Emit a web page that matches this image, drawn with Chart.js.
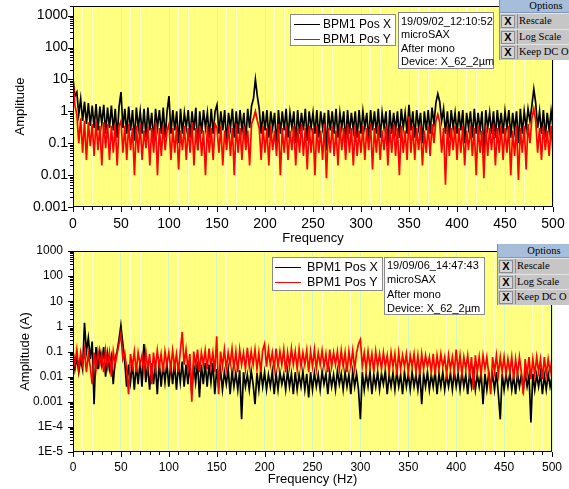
<!DOCTYPE html>
<html>
<head>
<meta charset="utf-8">
<script src="https://cdn.jsdelivr.net/npm/chart.js@4.4.0/dist/chart.umd.min.js"></script>
<style>
body { margin: 0; background: #fff; width: 569px; height: 489px; overflow: hidden; position: relative; font-family: "Liberation Sans", Arial, sans-serif; }
canvas { position: absolute; left: 0; }
#c1 { top: 0; }
#c2 { top: 240px; }
.box { position: absolute; background: #fff; border: 1px solid #8a8a8a; box-sizing: border-box; color: #000; }
.lg span { position: absolute; white-space: nowrap; line-height: 14px; }
.lg i { position: absolute; height: 0; border-top: 1px solid #000; width: 26px; }
.info { font-size: 11px; white-space: nowrap; padding-left: 2px; }
.opt { position: absolute; width: 92px; background: #c6c6c6; border-left: 1px solid #8c8c8c; font-family: "Liberation Serif", "DejaVu Serif", serif; font-size: 10.5px; color: #000; }
.opt .hd { background: #a7bedb; text-align: center; border-bottom: 1px solid #7f97b8; }
.opt .row { position: relative; height: 14.5px; border-top: 1px solid #e4e4e4; }
.opt .cb { position: absolute; left: 1px; top: 1px; width: 12px; height: 11px; border: 1px solid #8c8c8c; background: #d4d4d4; font-family: "Liberation Sans", Arial, sans-serif; font-weight: bold; font-size: 11px; line-height: 11px; text-align: center; }
.opt .tx { position: absolute; left: 17px; top: 0; line-height: 14px; border-left: 1px solid #8c8c8c; padding-left: 1px; }
</style>
</head>
<body>
<canvas id="c1" width="569" height="250"></canvas>
<canvas id="c2" width="569" height="249"></canvas>

<div class="box lg" style="left:290px;top:14px;width:106px;height:32px;font-size:12px">
  <i style="left:3px;top:9px"></i><span style="left:32px;top:2px">BPM1 Pos X</span>
  <i style="left:3px;top:24px;border-color:#ff0000"></i><span style="left:32px;top:17px">BPM1 Pos Y</span>
</div>
<div class="box info" style="left:398px;top:12px;width:96px;height:57px;line-height:13.3px;padding-top:2px">
  19/09/02_12:10:52<br>microSAX<br>After mono<br>Device: X_62_2µm
</div>
<div class="opt" style="left:499px;top:0">
  <div class="hd" style="height:12px;line-height:12px">Options</div>
  <div class="row"><span class="cb">X</span><span class="tx">Rescale</span></div>
  <div class="row"><span class="cb">X</span><span class="tx">Log Scale</span></div>
  <div class="row"><span class="cb">X</span><span class="tx">Keep DC O</span></div>
</div>

<div class="box lg" style="left:272px;top:257px;width:111px;height:34px;font-size:12.5px">
  <i style="left:2px;top:9px"></i><span style="left:34px;top:2px">BPM1 Pos X</span>
  <i style="left:2px;top:24px;border-color:#ff0000"></i><span style="left:34px;top:17px">BPM1 Pos Y</span>
</div>
<div class="box info" style="left:384px;top:257px;width:101px;height:58px;line-height:14.3px;padding-top:0">
  19/09/06_14:47:43<br>microSAX<br>After mono<br>Device: X_62_2µm
</div>
<div class="opt" style="left:497px;top:244px">
  <div class="hd" style="height:13px;line-height:13px">Options</div>
  <div class="row"><span class="cb">X</span><span class="tx">Rescale</span></div>
  <div class="row"><span class="cb">X</span><span class="tx">Log Scale</span></div>
  <div class="row"><span class="cb">X</span><span class="tx">Keep DC O</span></div>
</div>

<script>
// spectre, un point tous les 2 Hz (0 -> 500 Hz)
const freqStep = 2;

// graphique du haut (19/09/02)
const posX1 = [
  10, 3, 4, 0.8, 2.5, 0.5, 2, 0.4, 1.8, 0.35, 1.5, 0.3, 1.7, 0.25, 1.4, 0.4, 1.6, 0.2, 1.3, 0.3, 1.5, 0.25, 1.2, 0.15, 1.4,
  4, 0.3, 1.2, 0.2, 1.4, 0.25, 1.1, 0.12, 1.3, 0.3, 1.0, 0.2, 1.2, 0.15, 1.3, 0.25, 0.9, 0.1, 1.2, 0.3, 1.1, 0.2, 1.3, 0.15, 1.0,
  3, 0.2, 1.1, 0.25, 1.0, 0.1, 1.2, 0.2, 0.9, 0.3, 1.1, 0.15, 1.0, 0.25, 1.3, 0.06, 1.0, 0.2, 1.1, 0.3, 0.9, 0.15, 1.2, 0.2, 1.0,
  1.6, 0.2, 1.0, 0.25, 1.1, 0.1, 0.9, 0.3, 1.2, 0.15, 1.0, 0.2, 1.1, 0.25, 0.9, 0.12, 1.2, 0.3, 1.5, 2.5, 10, 3, 1.2, 0.2, 1.0,
  0.25, 1.1, 0.15, 1.0, 0.3, 0.9, 0.08, 1.1, 0.2, 1.0, 0.25, 1.2, 0.15, 0.9, 0.3, 1.0, 0.1, 1.1, 0.2, 0.9, 0.25, 1.2, 0.12, 1.0, 0.3,
  0.9, 0.2, 1.1, 0.15, 1.0, 0.3, 0.9, 0.06, 1.1, 0.25, 1.0, 0.2, 1.2, 0.15, 0.9, 0.3, 1.0, 0.1, 1.1, 0.2, 0.9, 0.25, 1.0, 0.15, 1.1,
  0.2, 1.0, 0.3, 0.9, 0.12, 1.1, 0.25, 1.0, 0.2, 1.2, 0.15, 0.9, 0.3, 1.0, 0.08, 1.1, 0.2, 0.9, 0.25, 1.0, 0.15, 1.2, 0.3, 0.9, 0.2,
  1.6, 0.25, 1.0, 0.15, 1.1, 0.3, 0.9, 0.1, 1.0, 0.25, 1.1, 0.2, 1.3, 0.4, 1.8, 3.5, 2, 0.5, 1.2, 0.2, 1.0, 0.15, 1.1, 0.3, 0.9,
  0.2, 1.0, 0.25, 1.1, 0.1, 0.9, 0.3, 1.0, 0.15, 1.2, 0.2, 0.9, 0.25, 1.0, 0.05, 1.1, 0.3, 0.9, 0.2, 1.0, 0.15, 1.1, 0.25, 0.9, 0.2,
  1.0, 0.3, 1.1, 0.15, 0.9, 0.25, 1.0, 0.1, 1.2, 0.2, 1.0, 0.3, 1.2, 0.5, 1.5, 5, 1.8, 0.3, 1.0, 0.2, 1.1, 0.15, 0.9, 0.25, 1.0,
  0.3
];
const posY1 = [
  10, 1.5, 0.8, 0.1, 0.6, 0.05, 0.5, 0.03, 0.45, 0.08, 0.4, 0.04, 0.5, 0.06, 0.35, 0.02, 0.45, 0.07, 0.4, 0.03, 0.35, 0.05, 0.4, 0.02, 0.35,
  0.5, 0.05, 0.35, 0.03, 0.4, 0.06, 0.3, 0.01, 0.35, 0.05, 0.4, 0.03, 0.25, 0.07, 0.35, 0.02, 0.3, 0.05, 0.45, 0.01, 0.3, 0.04, 0.35, 0.06, 0.25,
  0.4, 0.03, 0.3, 0.05, 0.35, 0.015, 0.25, 0.06, 0.35, 0.03, 0.3, 0.05, 0.45, 0.02, 0.3, 0.06, 0.35, 0.04, 0.25, 0.01, 0.35, 0.05, 0.3, 0.03, 0.4,
  0.3, 0.05, 0.35, 0.02, 0.25, 0.06, 0.35, 0.04, 0.3, 0.01, 0.4, 0.05, 0.3, 0.03, 0.35, 0.06, 0.25, 0.02, 0.4, 0.6, 1.0, 0.5, 0.3, 0.03, 0.35,
  0.05, 0.3, 0.02, 0.35, 0.06, 0.25, 0.04, 0.4, 0.01, 0.3, 0.05, 0.35, 0.03, 0.25, 0.06, 0.35, 0.02, 0.3, 0.05, 0.4, 0.04, 0.3, 0.015, 0.35, 0.05,
  0.3, 0.01, 0.35, 0.05, 0.25, 0.03, 0.4, 0.008, 0.3, 0.05, 0.35, 0.04, 0.25, 0.02, 0.35, 0.06, 0.3, 0.03, 0.4, 0.05, 0.3, 0.02, 0.35, 0.04, 0.25,
  0.05, 0.35, 0.03, 0.3, 0.06, 0.4, 0.015, 0.3, 0.05, 0.35, 0.03, 0.25, 0.06, 0.35, 0.02, 0.3, 0.05, 0.4, 0.04, 0.3, 0.01, 0.35, 0.05, 0.25, 0.03,
  0.7, 0.05, 0.35, 0.03, 0.3, 0.06, 0.35, 0.02, 0.25, 0.05, 0.35, 0.04, 0.4, 0.1, 0.5, 0.8, 0.45, 0.05, 0.3, 0.005, 0.35, 0.04, 0.3, 0.06, 0.35,
  0.03, 0.3, 0.05, 0.35, 0.02, 0.25, 0.06, 0.35, 0.04, 0.3, 0.01, 0.35, 0.05, 0.25, 0.008, 0.35, 0.04, 0.3, 0.06, 0.4, 0.02, 0.3, 0.05, 0.35, 0.03,
  0.3, 0.05, 0.35, 0.01, 0.25, 0.04, 0.35, 0.007, 0.3, 0.05, 0.35, 0.015, 0.4, 0.1, 0.6, 1.2, 0.5, 0.05, 0.3, 0.03, 0.35, 0.06, 0.25, 0.04, 0.35,
  0.05
];

// graphique du bas (19/09/06)
const posX2 = [
  0.1, 0.02, 0.06, 0.015, 0.05, 0.02, 1.4, 0.1, 0.35, 0.05, 0.25, 0.0008, 0.15, 0.02, 0.1, 0.03, 0.15, 0.01, 0.08, 0.02, 0.06, 0.005, 0.05, 0.1, 0.3,
  1.1, 0.2, 0.04, 0.004, 0.03, 0.006, 0.035, 0.003, 0.03, 0.005, 0.04, 0.004, 0.2, 0.006, 0.03, 0.003, 0.035, 0.005, 0.03, 0.002, 0.04, 0.004, 0.03, 0.006, 0.035,
  0.004, 0.03, 0.005, 0.035, 0.003, 0.03, 0.006, 0.04, 0.004, 0.03, 0.005, 0.035, 0.002, 0.03, 0.006, 0.04, 0.0015, 0.03, 0.005, 0.035, 0.004, 0.03, 0.006, 0.035, 0.002,
  0.02, 0.004, 0.018, 0.003, 0.015, 0.005, 0.02, 0.002, 0.016, 0.004, 0.014, 0.003, 0.018, 0.0002, 0.015, 0.004, 0.012, 0.003, 0.017, 0.005, 0.0008, 0.014, 0.003, 0.018, 0.004,
  0.015, 0.003, 0.012, 0.004, 0.016, 0.002, 0.013, 0.003, 0.015, 0.005, 0.012, 0.003, 0.017, 0.004, 0.013, 0.002, 0.015, 0.003, 0.012, 0.004, 0.016, 0.003, 0.013, 0.0015, 0.015,
  0.003, 0.014, 0.004, 0.012, 0.003, 0.016, 0.005, 0.013, 0.002, 0.015, 0.004, 0.012, 0.003, 0.017, 0.005, 0.013, 0.003, 0.015, 0.004, 0.012, 0.002, 0.016, 0.004, 0.013, 0.003,
  0.0002, 0.015, 0.003, 0.013, 0.004, 0.016, 0.002, 0.012, 0.004, 0.015, 0.003, 0.013, 0.005, 0.017, 0.002, 0.012, 0.004, 0.014, 0.003, 0.016, 0.004, 0.012, 0.002, 0.015, 0.004,
  0.013, 0.003, 0.015, 0.004, 0.012, 0.003, 0.016, 0.0008, 0.013, 0.004, 0.015, 0.003, 0.012, 0.004, 0.017, 0.002, 0.013, 0.004, 0.015, 0.003, 0.012, 0.004, 0.014, 0.003, 0.016,
  0.004, 0.013, 0.003, 0.015, 0.004, 0.012, 0.002, 0.014, 0.004, 0.016, 0.003, 0.012, 0.004, 0.015, 0.0008, 0.013, 0.003, 0.014, 0.004, 0.012, 0.003, 0.015, 0.002, 0.0002, 0.013,
  0.003, 0.012, 0.004, 0.014, 0.003, 0.011, 0.002, 0.013, 0.004, 0.012, 0.003, 0.014, 0.004, 0.011, 0.00015, 0.013, 0.003, 0.012, 0.004, 0.014, 0.002, 0.011, 0.003, 0.013, 0.004,
  0.01
];
const posY2 = [
  0.1, 0.03, 0.12, 0.02, 0.09, 0.03, 0.11, 0.015, 0.08, 0.025, 0.005, 0.09, 0.02, 0.1, 0.03, 0.08, 0.015, 0.11, 0.025, 0.09, 0.01, 0.1, 0.03, 0.08, 0.2,
  0.5, 0.05, 0.09, 0.02, 0.002, 0.08, 0.025, 0.1, 0.015, 0.09, 0.03, 0.07, 0.015, 0.1, 0.02, 0.08, 0.005, 0.09, 0.02, 0.11, 0.025, 0.08, 0.015, 0.1, 0.03,
  0.09, 0.02, 0.11, 0.025, 0.08, 0.015, 0.1, 0.6, 0.03, 0.12, 0.02, 0.08, 0.001, 0.1, 0.025, 0.12, 0.015, 0.09, 0.03, 0.11, 0.02, 0.13, 0.025, 0.09, 0.015,
  0.4, 0.002, 0.1, 0.025, 0.12, 0.02, 0.09, 0.03, 0.13, 0.02, 0.1, 0.015, 0.12, 0.03, 0.09, 0.02, 0.14, 0.025, 0.1, 0.03, 0.12, 0.02, 0.09, 0.015, 0.11,
  0.2, 0.025, 0.12, 0.03, 0.09, 0.02, 0.13, 0.025, 0.1, 0.03, 0.12, 0.015, 0.09, 0.025, 0.13, 0.03, 0.1, 0.02, 0.12, 0.025, 0.09, 0.03, 0.11, 0.015, 0.1,
  0.025, 0.12, 0.02, 0.09, 0.03, 0.11, 0.025, 0.08, 0.015, 0.12, 0.025, 0.09, 0.03, 0.1, 0.02, 0.11, 0.025, 0.09, 0.015, 0.1, 0.025, 0.11, 0.02, 0.09, 0.2,
  0.3, 0.025, 0.09, 0.02, 0.1, 0.025, 0.08, 0.015, 0.1, 0.025, 0.08, 0.02, 0.09, 0.025, 0.07, 0.015, 0.09, 0.025, 0.08, 0.012, 0.09, 0.02, 0.07, 0.025, 0.08,
  0.015, 0.07, 0.025, 0.08, 0.015, 0.07, 0.012, 0.08, 0.02, 0.07, 0.025, 0.06, 0.015, 0.08, 0.012, 0.07, 0.02, 0.08, 0.025, 0.06, 0.012, 0.07, 0.02, 0.06, 0.015,
  0.12, 0.015, 0.07, 0.012, 0.06, 0.02, 0.07, 0.012, 0.06, 0.003, 0.07, 0.015, 0.06, 0.012, 0.07, 0.02, 0.06, 0.012, 0.002, 0.06, 0.015, 0.07, 0.012, 0.06, 0.015,
  0.06, 0.012, 0.05, 0.015, 0.06, 0.008, 0.05, 0.012, 0.06, 0.015, 0.002, 0.05, 0.012, 0.06, 0.008, 0.05, 0.012, 0.06, 0.015, 0.05, 0.008, 0.06, 0.012, 0.05, 0.015,
  0.05
];

// graduations
const xTickLabels = ['0', '50', '100', '150', '200', '250', '300', '350', '400', '450', '500'];
const yTickVals1 = [1000, 100, 10, 1, 0.1, 0.01, 0.001];
const yTickLabels1 = ['1000', '100', '10', '1', '0.1', '0.01', '0.001'];
const yTickVals2 = [1000, 100, 10, 1, 0.1, 0.01, 0.001, 1e-4, 1e-5];
const yTickLabels2 = ['1000', '100', '10', '1', '0.1', '0.01', '0.001', '1E-4', '1E-5'];

const freqHz = Array.from({ length: posX1.length }, (_, i) => i * freqStep);
const pts = arr => arr.map((v, i) => ({ x: freqHz[i], y: v }));

Chart.defaults.font.family = '"Liberation Sans", Arial, sans-serif';
Chart.defaults.color = '#000';

// fond jaune, cadre noir et petites graduations
const cadre = {
  id: 'cadre',
  beforeDraw(chart) {
    const a = chart.chartArea, c = chart.ctx;
    c.save();
    c.fillStyle = '#ffff80';
    c.fillRect(a.left, a.top, a.right - a.left, a.bottom - a.top);
    c.restore();
  },
  afterDraw(chart) {
    const a = chart.chartArea, c = chart.ctx, sx = chart.scales.x, sy = chart.scales.y;
    c.save();
    c.strokeStyle = '#000';
    c.lineWidth = 1;
    c.strokeRect(a.left + 0.5, a.top + 0.5, a.right - a.left - 1, a.bottom - a.top - 1);
    c.beginPath();
    for (let f = 0; f <= 500; f += 10) {
      const px = Math.round(sx.getPixelForValue(f)) + 0.5;
      c.moveTo(px, a.bottom);
      c.lineTo(px, a.bottom + (f % 50 ? 3 : 5));
    }
    const e0 = Math.round(Math.log10(sy.min)), e1 = Math.floor(Math.log10(sy.max));
    for (let e = e0; e <= e1; e++) {
      for (let m = 1; m <= 9; m++) {
        const v = m * Math.pow(10, e);
        if (v > sy.max) break;
        const py = Math.round(sy.getPixelForValue(v)) + 0.5;
        c.moveTo(a.left, py);
        c.lineTo(a.left - (m === 1 ? 5 : 3), py);
      }
    }
    c.stroke();
    c.restore();
  }
};

function spectre(id, sX, sY, o) {
  new Chart(document.getElementById(id), {
    type: 'line',
    data: {
      datasets: [
        { label: 'BPM1 Pos X', data: pts(sX), borderColor: '#000000', borderWidth: 1.7, pointRadius: 0, order: 2 },
        { label: 'BPM1 Pos Y', data: pts(sY), borderColor: '#ff0000', borderWidth: 1.7, pointRadius: 0, order: 1 }
      ]
    },
    options: {
      responsive: false,
      animation: false,
      layout: { padding: { left: 0, top: o.top, right: o.right, bottom: 0 } },
      plugins: { legend: { display: false }, tooltip: { enabled: false } },
      scales: {
        x: {
          type: 'linear', min: 0, max: 500,
          border: { display: false },
          grid: {
            drawTicks: false,
            color: ctx => (ctx.tick && ctx.tick.value % 50 === 0) ? '#d4f7c4' : '#ffffcc',
            lineWidth: 1
          },
          ticks: {
            stepSize: 10, autoSkip: false, maxRotation: 0, padding: o.xPad,
            font: { size: o.tickSize },
            callback: v => (v % 50 === 0 ? xTickLabels[v / 50] : '')
          },
          title: { display: true, text: o.xTitle, font: { size: 13 }, padding: { top: 0, bottom: o.xTitlePad } },
          afterFit: s => { s.height = o.xH; s.paddingLeft = 0; s.paddingRight = 0; }
        },
        y: {
          type: 'logarithmic', min: o.yMin, max: o.yMax,
          border: { display: false },
          grid: { drawOnChartArea: false, drawTicks: false },
          ticks: {
            autoSkip: false, padding: o.yPad,
            font: { size: o.tickSize },
            callback: v => { const i = o.yVals.indexOf(v); return i < 0 ? '' : o.yLabels[i]; }
          },
          afterBuildTicks: s => { s.ticks = o.yVals.map(v => ({ value: v })); },
          title: { display: true, text: o.yTitle, font: { size: 13 }, padding: { top: o.yTitlePad, bottom: 0 } },
          afterFit: s => { s.width = 73; s.paddingTop = 0; s.paddingBottom = 0; }
        }
      }
    },
    plugins: [cadre]
  });
}

spectre('c1', posX1, posY1, {
  top: 6, right: 16, xH: 43, xPad: 9, xTitlePad: 4, tickSize: 14,
  yMin: 0.001, yMax: 2000, yVals: yTickVals1, yLabels: yTickLabels1, yPad: 5, yTitlePad: 13,
  xTitle: 'Frequency', yTitle: 'Amplitude'
});
spectre('c2', posX2, posY2, {
  top: 11, right: 17, xH: 37, xPad: 8, xTitlePad: 2, tickSize: 12,
  yMin: 1e-5, yMax: 1000, yVals: yTickVals2, yLabels: yTickLabels2, yPad: 10, yTitlePad: 18,
  xTitle: 'Frequency (Hz)', yTitle: 'Amplitude (A)'
});
</script>
</body>
</html>
